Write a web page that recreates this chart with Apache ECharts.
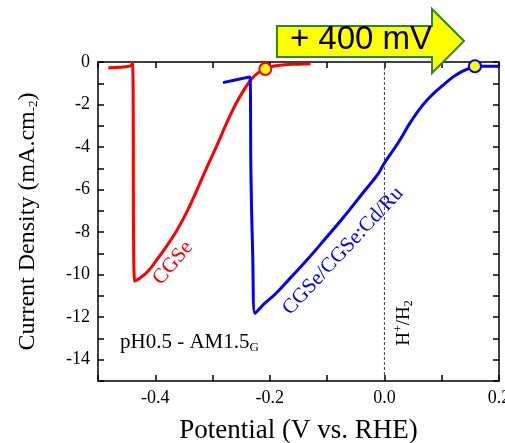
<!DOCTYPE html>
<html>
<head>
<meta charset="utf-8">
<script src="https://cdn.jsdelivr.net/npm/echarts@6/dist/echarts.min.js"></script>
<style>html,body{margin:0;padding:0;background:#fff;}#c{width:505px;height:443px;}</style>
</head>
<body>
<div id="c"></div>
<script>
// Data
const cgse = [[-0.482,-0.27],[-0.444,-0.19],[-0.440,-0.05],[-0.436,-10.3],[-0.430,-10.22],[-0.415,-9.9],[-0.400,-9.4],[-0.380,-8.65],[-0.362,-7.9],[-0.345,-7.05],[-0.327,-6.0],[-0.310,-4.95],[-0.292,-3.9],[-0.276,-2.9],[-0.260,-2.0],[-0.245,-1.3],[-0.232,-0.8],[-0.220,-0.5],[-0.208,-0.33],[-0.195,-0.2],[-0.175,-0.13],[-0.150,-0.1],[-0.129,-0.08]];
const cgseRu = [[-0.282,-0.97],[-0.235,-0.70],[-0.233,-5.3],[-0.230,-9.0],[-0.226,-11.82],[-0.218,-11.6],[-0.211,-11.4],[-0.190,-10.9],[-0.164,-10.15],[-0.135,-9.3],[-0.103,-8.3],[-0.070,-7.25],[-0.036,-6.1],[-0.012,-5.3],[0.0,-4.75],[0.024,-3.8],[0.045,-2.85],[0.066,-2.05],[0.085,-1.5],[0.104,-1.05],[0.120,-0.7],[0.135,-0.45],[0.148,-0.3],[0.158,-0.22],[0.170,-0.2],[0.200,-0.2]];
const onsetCGSe = [[-0.208,-0.33]];
const onsetRu = [[0.158,-0.2]];
const refLine = [[0,0],[0,-15]];
const xTicks = {min:-0.5, max:0.2, step:0.1};
const yTicks = {min:-15, max:0, step:1};

const serif = '"Liberation Serif", "DejaVu Serif", serif';
const chart = echarts.init(document.getElementById('c'), null, {renderer:'canvas'});

const axisCommon = {
  axisLine:{show:true, onZero:false, lineStyle:{color:'#000', width:1.5}},
  axisTick:{show:true, inside:true, length:6, lineStyle:{color:'#000', width:1.5}},
  splitLine:{show:false}
};

chart.setOption({
  animation:false,
  grid:{left:98, right:6, top:62, bottom:62, outerBoundsMode:'none'},
  xAxis:[
    Object.assign({type:'value', min:xTicks.min, max:xTicks.max, interval:xTicks.step, position:'bottom',
      name:'Potential (V vs. RHE)', nameLocation:'middle', nameGap:36,
      nameTextStyle:{fontFamily:serif, fontSize:27, color:'#000'},
      axisLabel:{show:true, margin:8, fontFamily:serif, fontSize:18, color:'#000',
        formatter:v=>{const k=Math.round(v*10); return (k%2===0)?(k/10).toFixed(1):'';}}}, axisCommon),
    Object.assign({type:'value', min:xTicks.min, max:xTicks.max, interval:xTicks.step, position:'top',
      axisLabel:{show:false}}, axisCommon)
  ],
  yAxis:[
    Object.assign({type:'value', min:yTicks.min, max:yTicks.max, interval:yTicks.step, position:'left',
      name:'{a|Current Density (mA.cm}{s|-2}{a|)}', nameLocation:'middle', nameGap:58, nameRotate:90,
      nameTextStyle:{color:'#000', rich:{a:{fontFamily:serif, fontSize:24, color:'#000'}, s:{fontFamily:serif, fontSize:13, color:'#000', verticalAlign:'bottom', padding:[10,0,0,0]}}},
      axisLabel:{show:true, margin:8, fontFamily:serif, fontSize:18, color:'#000',
        formatter:v=>{const k=Math.round(v); return (k%2===0)?String(k):'';}}}, axisCommon),
    Object.assign({type:'value', min:yTicks.min, max:yTicks.max, interval:yTicks.step, position:'right',
      axisLabel:{show:false}}, axisCommon)
  ],
  series:[
    {type:'line', data:refLine, symbol:'none', lineStyle:{color:'#444', width:1, type:[3,2]}, z:1},
    {type:'line', data:cgse, symbol:'none', smooth:0.4, lineStyle:{color:'#ff0000', width:3}, z:3},
    {type:'line', data:cgseRu, symbol:'none', smooth:0.4, lineStyle:{color:'#0000ff', width:3}, z:3},
    {type:'scatter', data:onsetCGSe, symbol:'circle', symbolSize:12, itemStyle:{color:'#ffff00', borderColor:'#ff0000', borderWidth:2, opacity:1}, z:5},
    {type:'scatter', data:onsetRu, symbol:'circle', symbolSize:12, itemStyle:{color:'#ffff00', borderColor:'#0000ff', borderWidth:2, opacity:1}, z:5}
  ],
  graphic:[
    {type:'polygon', z:100, shape:{points:[[277,26],[432,26],[432,9],[464,41],[432,73],[432,57],[277,57]]},
      style:{fill:'#ffff00', stroke:'#2e8b10', lineWidth:2}},
    {type:'text', z:101, x:361, y:40, style:{text:'+ 400 mV', font:'33px "Liberation Sans", Arial, sans-serif', fill:'#000', align:'center', verticalAlign:'middle'}},
    {type:'text', z:50, x:173, y:263, rotation:50*Math.PI/180, style:{text:'CGSe', font:'21px '+serif, fill:'#ff0000', align:'center', verticalAlign:'middle'}},
    {type:'text', z:50, x:343, y:251, rotation:47*Math.PI/180, style:{text:'CGSe/CGSe:Cd/Ru', font:'21px '+serif, fill:'#0000ff', align:'center', verticalAlign:'middle'}},
    {type:'text', z:50, x:404, y:323, rotation:Math.PI/2, style:{text:'{a|H}{p|+}{a|/H}{b|2}', align:'center', verticalAlign:'middle',
      rich:{a:{fontFamily:serif, fontSize:19, fill:'#000'}, p:{fontFamily:serif, fontSize:12, fill:'#000', padding:[0,0,10,0]}, b:{fontFamily:serif, fontSize:12, fill:'#000', padding:[10,0,0,0]}}}},
    {type:'text', z:50, x:120, y:342, style:{text:'{a|pH0.5 - AM1.5}{b|G}', align:'left', verticalAlign:'middle',
      rich:{a:{fontFamily:serif, fontSize:21, fill:'#000'}, b:{fontFamily:serif, fontSize:13, fill:'#000', padding:[12,0,0,0]}}}}
  ]
});
</script>
</body>
</html>
